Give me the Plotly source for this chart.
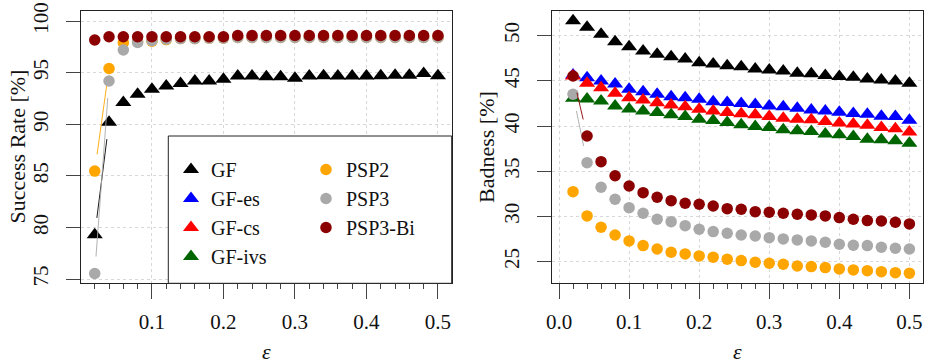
import math
import plotly.graph_objects as go

eps = [0.02, 0.04, 0.06, 0.08, 0.10, 0.12, 0.14, 0.16, 0.18, 0.20, 0.22, 0.24, 0.26,
       0.28, 0.30, 0.32, 0.34, 0.36, 0.38, 0.40, 0.42, 0.44, 0.46, 0.48, 0.50]

# Success rate [%] (left panel)
sr_gf = [79.3, 90.2, 92.1, 92.9, 93.4, 93.7, 93.96, 94.2, 94.2, 94.35, 94.67, 94.67, 94.6,
         94.6, 94.45, 94.67, 94.7, 94.67, 94.67, 94.67, 94.7, 94.75, 94.75, 94.93, 94.7]
sr_psp2 = [85.47, 95.4, 97.9, 98.0, 98.05, 98.2, 98.3, 98.3, 98.35, 98.35, 98.4, 98.4, 98.4,
           98.4, 98.4, 98.4, 98.4, 98.4, 98.4, 98.4, 98.4, 98.4, 98.4, 98.4, 98.4]
sr_psp3 = [75.55, 94.19, 97.19, 97.93, 98.1, 98.25, 98.3, 98.3, 98.35, 98.35, 98.4, 98.4, 98.4,
           98.4, 98.4, 98.4, 98.4, 98.4, 98.4, 98.4, 98.4, 98.4, 98.4, 98.4, 98.4]
sr_bi = [98.16, 98.48, 98.48, 98.48, 98.48, 98.48, 98.48, 98.48, 98.48, 98.48, 98.6, 98.6, 98.6,
         98.6, 98.6, 98.6, 98.6, 98.6, 98.6, 98.6, 98.6, 98.6, 98.6, 98.6, 98.6]

# Badness [%] (right panel)
bd_gf = [51.66, 50.93, 50.15, 49.34, 48.79, 48.3, 47.94, 47.68, 47.42, 47.01, 46.87, 46.68, 46.57,
         46.32, 46.2, 46.1, 45.84, 45.8, 45.6, 45.5, 45.4, 45.2, 45.1, 45.0, 44.73]
bd_es = [45.65, 45.35, 44.99, 44.66, 44.07, 43.8, 43.52, 43.25, 43.14, 42.96, 42.7, 42.6, 42.5,
         42.4, 42.22, 42.15, 41.96, 41.78, 41.67, 41.52, 41.4, 41.3, 41.1, 41.05, 40.65]
bd_cs = [45.54, 44.73, 44.25, 43.63, 43.14, 42.89, 42.59, 42.33, 42.15, 41.86, 41.67, 41.49, 41.36,
         41.25, 41.07, 40.88, 40.77, 40.7, 40.52, 40.33, 40.22, 40.08, 39.85, 39.7, 39.35]
bd_ivs = [43.08, 43.0, 42.78, 42.22, 41.89, 41.67, 41.49, 41.25, 41.07, 40.77, 40.62, 40.4, 40.14,
          39.96, 39.85, 39.59, 39.48, 39.4, 39.11, 39.04, 38.85, 38.55, 38.48, 38.37, 38.11]
bd_psp2 = [32.74, 30.06, 28.8, 27.95, 27.29, 26.77, 26.4, 26.04, 25.85, 25.63, 25.49, 25.27, 25.11,
           24.93, 24.82, 24.71, 24.52, 24.45, 24.34, 24.19, 24.08, 24.0, 23.89, 23.78, 23.72]
bd_psp3 = [43.52, 35.95, 33.23, 31.9, 30.97, 30.35, 29.69, 29.42, 28.98, 28.58, 28.32, 28.14, 27.95,
           27.84, 27.65, 27.51, 27.4, 27.29, 27.14, 26.92, 26.81, 26.77, 26.59, 26.48, 26.4]
bd_bi = [45.54, 38.9, 36.06, 34.5, 33.37, 32.63, 32.12, 31.75, 31.46, 31.35, 31.16, 30.86, 30.79,
         30.53, 30.46, 30.35, 30.24, 30.17, 30.06, 29.87, 29.69, 29.54, 29.5, 29.36, 29.17]

x_ticks_left = [0.1, 0.2, 0.3, 0.4, 0.5]
x_ticks_right = [0.0, 0.1, 0.2, 0.3, 0.4, 0.5]

FONT = "Liberation Serif, DejaVu Serif, serif"
W, H = 931, 364


def px(x):
    return x / W


def py(y):
    return 1 - y / H


# panel geometry (paper fractions) and axis ranges
xl0, xl1 = px(81), px(451.7)
xr0, xr1 = px(552.3), px(922.7)
yb, yt = py(283.3), py(10.7)
xr_left = [0.0008, 0.5192]
yr_left = [74.6, 101.0]
xr_right = [-0.0096, 0.519]
yr_right = [22.6, 52.77]

styles = {
    "GF": dict(color="#000000", symbol="triangle-up"),
    "GF-es": dict(color="#0000FF", symbol="triangle-up"),
    "GF-cs": dict(color="#FF0000", symbol="triangle-up"),
    "GF-ivs": dict(color="#006400", symbol="triangle-up"),
    "PSP2": dict(color="#FFA500", symbol="circle"),
    "PSP3": dict(color="#A9A9A9", symbol="circle"),
    "PSP3-Bi": dict(color="#8B0000", symbol="circle"),
}
legend_rank = {"GF": 1, "GF-es": 2, "GF-cs": 3, "GF-ivs": 4, "PSP2": 5, "PSP3": 6, "PSP3-Bi": 7}

fig = go.Figure()


def gapped_segments(xs, ys, xrange_, yrange_, xdom, ydom, gap=17.0):
    """R type='b' style: segments between points, with a gap around each point."""
    sx = (xdom[1] - xdom[0]) * W / (xrange_[1] - xrange_[0])
    sy = (ydom[1] - ydom[0]) * H / (yrange_[1] - yrange_[0])
    lx, ly = [], []
    for i in range(len(xs) - 1):
        dx = (xs[i + 1] - xs[i]) * sx
        dy = (ys[i + 1] - ys[i]) * sy
        d = math.hypot(dx, dy)
        if d <= 2 * gap:
            continue
        f = gap / d
        lx += [xs[i] + f * (xs[i + 1] - xs[i]), xs[i + 1] - f * (xs[i + 1] - xs[i]), None]
        ly += [ys[i] + f * (ys[i + 1] - ys[i]), ys[i + 1] - f * (ys[i + 1] - ys[i]), None]
    return lx, ly


def add(name, y, panel, show):
    st = styles[name]
    size = 14 if st["symbol"] == "triangle-up" else 11.5
    if panel == "left":
        xa, ya, xr, yr, xd = "x", "y", xr_left, yr_left, (xl0, xl1)
    else:
        xa, ya, xr, yr, xd = "x2", "y2", xr_right, yr_right, (xr0, xr1)
    lx, ly = gapped_segments(eps, y, xr, yr, xd, (yb, yt))
    if lx:
        fig.add_trace(go.Scatter(
            x=lx, y=ly, mode="lines", xaxis=xa, yaxis=ya, showlegend=False,
            line=dict(color=st["color"], width=0.9), hoverinfo="skip", legendgroup=name,
        ))
    fig.add_trace(go.Scatter(
        x=eps, y=y, name=name, mode="markers", xaxis=xa, yaxis=ya,
        marker=dict(color=st["color"], symbol=st["symbol"], size=size, line=dict(width=0)),
        legendgroup=name, showlegend=show, legendrank=legend_rank[name],
        legend="legend" if st["symbol"] == "triangle-up" else "legend2",
    ))


# left panel
add("GF", sr_gf, "left", True)
add("PSP2", sr_psp2, "left", True)
add("PSP3", sr_psp3, "left", True)
add("PSP3-Bi", sr_bi, "left", True)
# right panel
add("GF", bd_gf, "right", False)
add("GF-es", bd_es, "right", True)
add("GF-cs", bd_cs, "right", True)
add("GF-ivs", bd_ivs, "right", True)
add("PSP2", bd_psp2, "right", False)
add("PSP3", bd_psp3, "right", False)
add("PSP3-Bi", bd_bi, "right", False)

tickfont = dict(family=FONT, size=21, color="#111111")
common_x = dict(
    showline=True, linecolor="#222222", linewidth=1, mirror=True, automargin=False,
    ticks="outside", ticklen=15, tickcolor="#444444", tickwidth=1,
    tickformat=".1f", tickfont=tickfont, ticklabelstandoff=4, ticklabeloverflow="allow",
    showgrid=True, gridcolor="#d8d8d8", griddash="3px,3px", gridwidth=1, zeroline=False,
    minor=dict(ticks="outside", ticklen=5, dtick=0.02, tick0=0, tickcolor="#444444", showgrid=False),
)
common_y = dict(
    showline=True, linecolor="#222222", linewidth=1, mirror=True, automargin=False,
    ticks="outside", ticklen=14, tickcolor="#444444", tickwidth=1,
    tickangle=-90, tickfont=tickfont, dtick=5, tick0=0, ticklabelstandoff=10,
    ticklabeloverflow="allow",
    showgrid=True, gridcolor="#d8d8d8", griddash="3px,3px", gridwidth=1, zeroline=False,
)

legfont = dict(family=FONT, size=20, color="#111111")
title_font = dict(family=FONT, size=22, color="#111111")

fig.update_layout(
    width=W, height=H, margin=dict(l=0, r=0, t=0, b=0, autoexpand=False),
    paper_bgcolor="white", plot_bgcolor="white",
    font=dict(family=FONT, color="#111111"),
    xaxis=dict(domain=[xl0, xl1], range=xr_left, anchor="y", tickvals=x_ticks_left, **common_x),
    yaxis=dict(domain=[yb, yt], range=yr_left, anchor="x", **common_y),
    xaxis2=dict(domain=[xr0, xr1], range=xr_right, anchor="y2", tickvals=x_ticks_right, **common_x),
    yaxis2=dict(domain=[yb, yt], range=yr_right, anchor="x2", **common_y),
    showlegend=True,
    legend=dict(x=px(171), y=py(150), xanchor="left", yanchor="top", traceorder="normal",
                font=legfont, bgcolor="rgba(0,0,0,0)", borderwidth=0, tracegroupgap=0,
                itemsizing="trace"),
    legend2=dict(x=px(306), y=py(150), xanchor="left", yanchor="top", traceorder="normal",
                 font=legfont, bgcolor="rgba(0,0,0,0)", borderwidth=0, tracegroupgap=0,
                 itemsizing="trace"),
    shapes=[dict(type="rect", xref="paper", yref="paper",
                 x0=px(168.3), x1=xl1, y0=yb, y1=py(136),
                 line=dict(color="#222222", width=1), fillcolor="white", layer="above")],
    annotations=[
        dict(text="Success Rate [%]", xref="paper", yref="paper", x=px(16.5), y=(yb + yt) / 2,
             xanchor="center", yanchor="middle", textangle=-90, showarrow=False, font=title_font),
        dict(text="Badness [%]", xref="paper", yref="paper", x=px(486), y=(yb + yt) / 2,
             xanchor="center", yanchor="middle", textangle=-90, showarrow=False, font=title_font),
        dict(text="<i>ε</i>", xref="paper", yref="paper", x=(xl0 + xl1) / 2, y=py(351),
             xanchor="center", yanchor="middle", showarrow=False, font=title_font),
        dict(text="<i>ε</i>", xref="paper", yref="paper", x=(xr0 + xr1) / 2, y=py(351),
             xanchor="center", yanchor="middle", showarrow=False, font=title_font),
    ],
)

# remove the browser's default 8px page margin so the figure fills the window exactly
fig.write_html("out.html", config={"displayModeBar": False},
               post_script="document.body.style.margin='0';")
